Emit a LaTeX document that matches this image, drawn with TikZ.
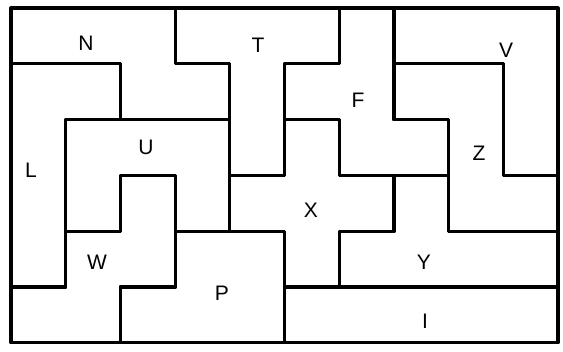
\documentclass[tikz,border=0pt]{standalone}
\usepackage{fontspec}
\setmainfont{Liberation Sans}
\begin{document}
\begin{tikzpicture}[x=1pt,y=-1pt,
  piece/.style={draw=black,line width=3.2pt,line join=round,line cap=round},
  lbl/.style={font=\fontsize{21}{24}\selectfont,inner sep=0pt}]
\useasboundingbox (0,0) rectangle (563,352);
\fill[white] (0,0) rectangle (563,352);
\begin{scope}[shift={(11pt,-8pt)},x=54.7pt,y=-55.8pt]
% N
\draw[piece] (0,0)--(3,0)--(3,1)--(4,1)--(4,2)--(2,2)--(2,1)--(0,1)--cycle;
% T
\draw[piece] (3,0)--(6,0)--(6,1)--(5,1)--(5,3)--(4,3)--(4,1)--(3,1)--cycle;
% F
\draw[piece] (6,0)--(7,0)--(7,2)--(8,2)--(8,3)--(6,3)--(6,2)--(5,2)--(5,1)--(6,1)--cycle;
% V
\draw[piece] (7,0)--(10,0)--(10,3)--(9,3)--(9,1)--(7,1)--cycle;
% Z
\draw[piece] (7,1)--(9,1)--(9,3)--(10,3)--(10,4)--(8,4)--(8,2)--(7,2)--cycle;
% L
\draw[piece] (0,1)--(2,1)--(2,2)--(1,2)--(1,5)--(0,5)--cycle;
% U
\draw[piece] (1,2)--(4,2)--(4,4)--(3,4)--(3,3)--(2,3)--(2,4)--(1,4)--cycle;
% X
\draw[piece] (5,2)--(6,2)--(6,3)--(7,3)--(7,4)--(6,4)--(6,5)--(5,5)--(5,4)--(4,4)--(4,3)--(5,3)--cycle;
% W
\draw[piece] (2,3)--(3,3)--(3,5)--(2,5)--(2,6)--(0,6)--(0,5)--(1,5)--(1,4)--(2,4)--cycle;
% P
\draw[piece] (3,4)--(5,4)--(5,6)--(2,6)--(2,5)--(3,5)--cycle;
% Y
\draw[piece] (7,3)--(8,3)--(8,4)--(10,4)--(10,5)--(6,5)--(6,4)--(7,4)--cycle;
% I
\draw[piece] (5,5)--(10,5)--(10,6)--(5,6)--cycle;
\end{scope}
\node[lbl] (lN) at (86,43) {N};
\node[lbl] (lT) at (258,45) {T};
\node[lbl] (lV) at (506,50) {V};
\node[lbl] (lF) at (358,100) {F};
\node[lbl] (lU) at (146,147) {U};
\node[lbl] (lL) at (31,170) {L};
\node[lbl] (lZ) at (479,153) {Z};
\node[lbl] (lX) at (311,210) {X};
\node[lbl] (lW) at (97,262) {W};
\node[lbl] (lY) at (424,262) {Y};
\node[lbl] (lP) at (222,293) {P};
\node[lbl] (lI) at (425,321) {I};
\end{tikzpicture}
\end{document}
